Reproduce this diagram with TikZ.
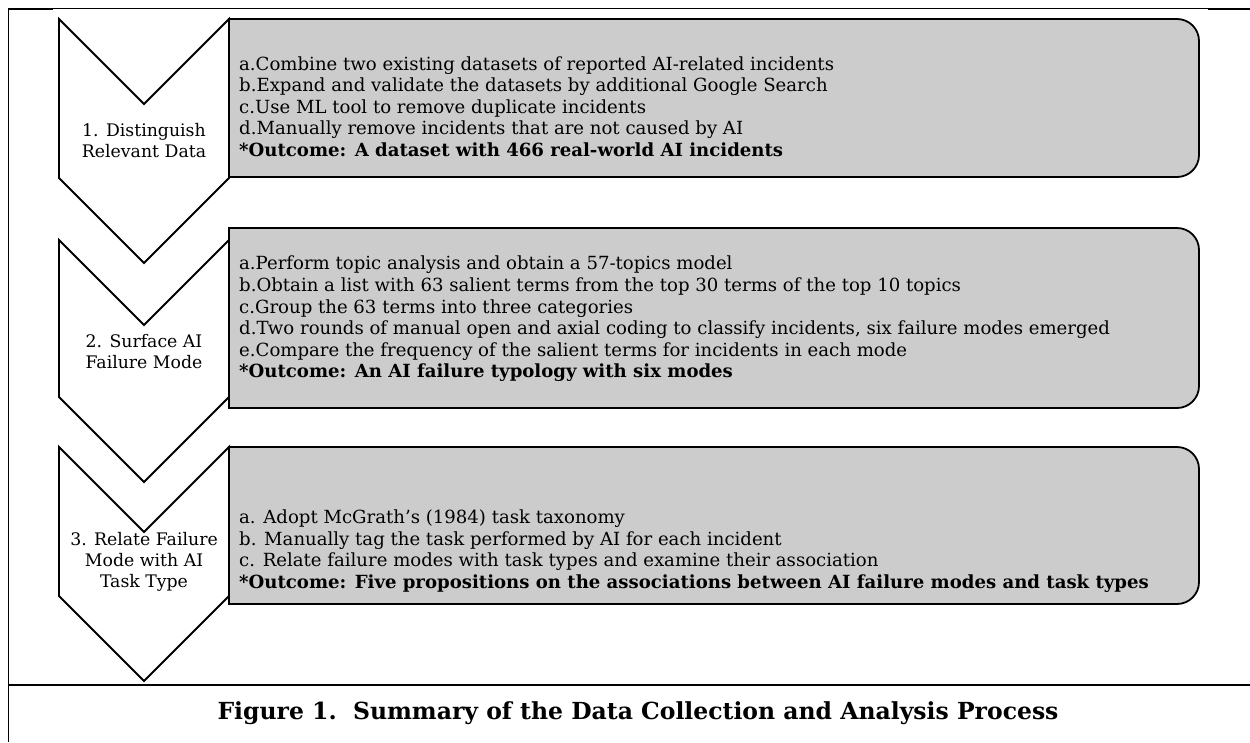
\documentclass[tikz,border=0pt]{standalone}
\usepackage{fontspec}
\setmainfont{DejaVu Serif}
\definecolor{boxgray}{RGB}{204,204,204}
\begin{document}
\begin{tikzpicture}[x=1pt,y=-1pt,
  chev/.style={draw=black,line width=1.8pt,fill=white,line join=miter},
  stepbox/.style={draw=black,line width=1.8pt,fill=boxgray},
  boxtext/.style={anchor=west,align=left,inner sep=0pt,font=\fontsize{18.1}{21.6}\selectfont},
  chevtext/.style={align=center,inner sep=0pt,font=\fontsize{17.3}{21}\selectfont},
  framethin/.style={line width=1.1pt},
  framethick/.style={line width=2pt}]
\useasboundingbox[fill=white] (0,0) rectangle (1250,742);
% frame
\draw[framethin] (8,8.5) -- (1250,8.5);
\draw[framethick] (8,9) -- (53,9);
\draw[framethick] (1208,9) -- (1250,9);
\draw[framethin] (8.5,8) -- (8.5,742);
\draw[framethin] (8,685) -- (1250,685);
\draw[framethick] (8,685) -- (53,685);
\draw[framethick] (1208,685) -- (1250,685);
% chevrons
\draw[chev] (59,19) -- (144,104) -- (229,19) -- (229,178) -- (144,263) -- (59,178) -- cycle;
\draw[chev] (59,240) -- (144,325) -- (229,240) -- (229,397) -- (144,482) -- (59,397) -- cycle;
\draw[chev] (59,447) -- (144,532) -- (229,447) -- (229,596) -- (144,681) -- (59,596) -- cycle;
% boxes
\draw[stepbox] (229,19) -- (1177,19) arc[start angle=-90,end angle=0,radius=22] -- (1199,155) arc[start angle=0,end angle=90,radius=22] -- (229,177) -- cycle;
\draw[stepbox] (229,228) -- (1177,228) arc[start angle=-90,end angle=0,radius=22] -- (1199,386) arc[start angle=0,end angle=90,radius=22] -- (229,408) -- cycle;
\draw[stepbox] (229,447) -- (1177,447) arc[start angle=-90,end angle=0,radius=22] -- (1199,582) arc[start angle=0,end angle=90,radius=22] -- (229,604) -- cycle;
% chevron labels
\node[chevtext] (l1) at (144,141) {1. Distinguish\\Relevant Data};
\node[chevtext] (l2) at (144,352) {2. Surface AI\\Failure Mode};
\node[chevtext] (l3) at (144,562) {3. Relate Failure\\Mode with AI\\Task Type};
% box texts
\node[boxtext] (t1) at (239,106.5) {a.Combine two existing datasets of reported AI-related incidents\\
b.Expand and validate the datasets by additional Google Search\\
c.Use ML tool to remove duplicate incidents\\
d.Manually remove incidents that are not caused by AI\\
\textbf{*Outcome: A dataset with 466 real-world AI incidents}};
\node[boxtext] (t2) at (239,319) {a.Perform topic analysis and obtain a 57-topics model\\
b.Obtain a list with 63 salient terms from the top 30 terms of the top 10 topics\\
c.Group the 63 terms into three categories\\
d.Two rounds of manual open and axial coding to classify incidents, six failure modes emerged\\
e.Compare the frequency of the salient terms for incidents in each mode\\
\textbf{*Outcome: An AI failure typology with six modes}};
\node[boxtext] (t3) at (239,551) {a. Adopt McGrath’s (1984) task taxonomy\\
b. Manually tag the task performed by AI for each incident\\
c. Relate failure modes with task types and examine their association\\
\textbf{*Outcome: Five propositions on the associations between AI failure modes and task types}};
% caption
\node[font=\bfseries\fontsize{23.5}{27}\selectfont,inner sep=0pt] (cap) at (638,713) {Figure 1.\ \ Summary of the Data Collection and Analysis Process};
\end{tikzpicture}
\end{document}
